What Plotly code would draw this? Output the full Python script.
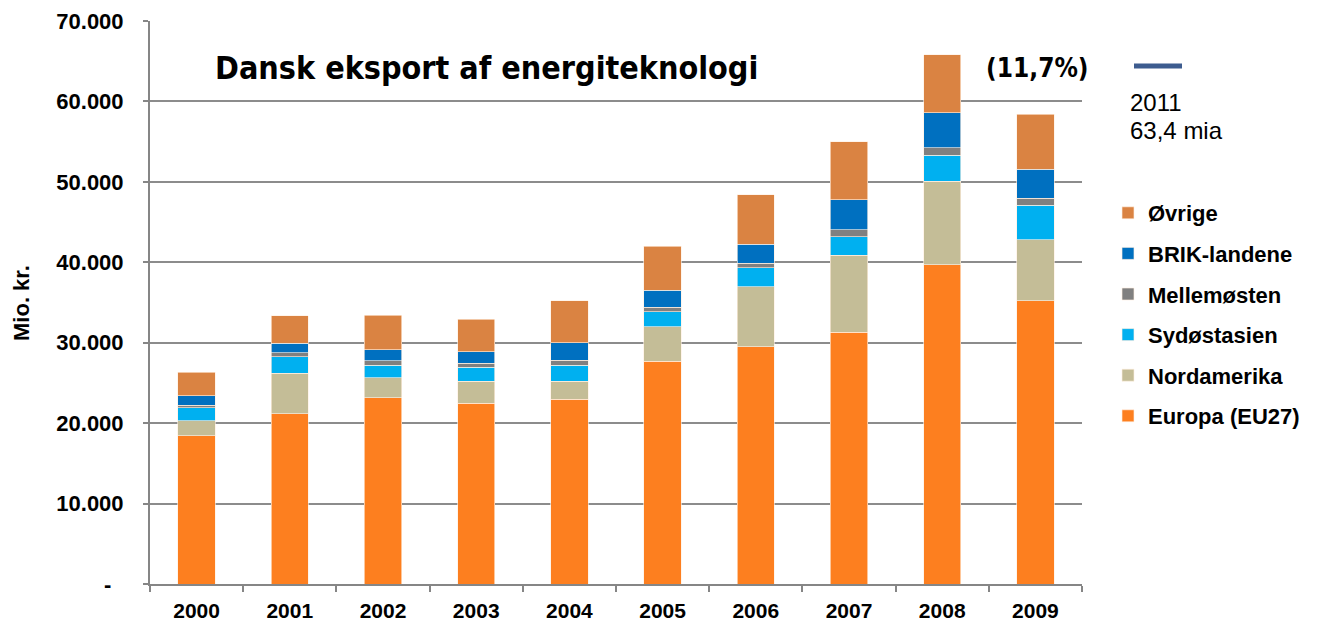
import plotly.graph_objects as go

years = ["2000", "2001", "2002", "2003", "2004", "2005", "2006", "2007", "2008", "2009"]

europa = [18440, 21175, 23170, 22500, 23000, 27690, 29500, 31330, 39700, 35220]
nordamerika = [1830, 5060, 2445, 2690, 2240, 4265, 7460, 9575, 10365, 7585]
sydoestasien = [1650, 1990, 1575, 1740, 1950, 1900, 2370, 2240, 3235, 4275]
mellemoesten = [330, 500, 540, 540, 620, 545, 540, 910, 945, 910]
brik = [1150, 1200, 1365, 1410, 2200, 2150, 2400, 3730, 4350, 3605]
oevrige = [2900, 3435, 4350, 4020, 5180, 5470, 6130, 7210, 7210, 6840]

series_names = ["Europa (EU27)", "Nordamerika", "Sydøstasien", "Mellemøsten", "BRIK-landene", "Øvrige"]
series_values = [europa, nordamerika, sydoestasien, mellemoesten, brik, oevrige]
series_colors = ["#FD7F1F", "#C4BD97", "#00B0F0", "#808080", "#0070C0", "#DA8342"]

y_tickvals = [0, 10000, 20000, 30000, 40000, 50000, 60000, 70000]
y_ticktext = ["-\u00a0\u00a0", "10.000", "20.000", "30.000", "40.000", "50.000", "60.000", "70.000"]

title_text = "Dansk eksport af energiteknologi"
growth_text = "(11,7%)"
note_year = "2011"
note_value = "63,4 mia"
y_title = "Mio. kr."

FONT = "Liberation Sans, Arial, sans-serif"
TFONT = "Liberation Sans Narrow, Arial Narrow, DejaVu Sans Condensed, Liberation Sans, sans-serif"

# page body has an 8px margin; work in reference-screen pixels and shift
OFF = 8
W, H = 1326 - 2 * OFF, 629 - 2 * OFF
PL, PR, PT, PB = 150, 1082, 21, 584  # plot area in screen pixels
L, R, T, B = PL - OFF, W - (PR - OFF), PT - OFF, H - (PB - OFF)
pw, ph = PR - PL, PB - PT


def px(x):
    return (x - PL) / pw


def py(y):
    return (PB - y) / ph


def cx(x):
    return (x - OFF) / W


def cy(y):
    return 1 - (y - OFF) / H


fig = go.Figure()
for i, (name, vals, col) in enumerate(zip(series_names, series_values, series_colors)):
    fig.add_trace(go.Bar(
        x=years, y=vals, name=name, legendgroup=name,
        legendrank=len(series_names) - i,
        marker=dict(color=col, line=dict(color="rgba(255,240,225,0.8)", width=0.8)),
    ))

fig.update_layout(
    width=W, height=H,
    margin=dict(l=L, r=R, t=T, b=B, autoexpand=False),
    barmode="stack",
    bargap=0.6,
    plot_bgcolor="white",
    paper_bgcolor="white",
    font=dict(family=FONT, color="black"),
    showlegend=True,
    legend=dict(
        xref="container", yref="container",
        x=cx(1108), xanchor="left", y=cy(192), yanchor="top",
        traceorder="grouped", tracegroupgap=9,
        font=dict(family=FONT, size=22, color="black", weight="bold"),
        itemwidth=30, bgcolor="rgba(0,0,0,0)",
    ),
    xaxis=dict(
        type="category", automargin=False,
        showline=True, linecolor="#868686", linewidth=2,
        ticks="outside", tickson="boundaries", ticklen=6, tickcolor="#868686", tickwidth=2,
        tickfont=dict(family=FONT, size=21, color="black", weight="bold"),
        showgrid=False,
        ticklabelstandoff=7,
    ),
    yaxis=dict(
        range=[0, 70000], automargin=False,
        tickvals=y_tickvals, ticktext=y_ticktext,
        showline=True, linecolor="#868686", linewidth=2,
        ticks="outside", ticklen=5, tickcolor="#868686", tickwidth=2,
        showgrid=True, gridcolor="#8c8c8c", gridwidth=1.5,
        tickfont=dict(family=FONT, size=22, color="black", weight="bold"),
        ticklabelstandoff=15,
        zeroline=False,
    ),
)

fig.add_annotation(
    text=y_title, xref="paper", yref="paper", x=px(21), y=py(303),
    textangle=-90, showarrow=False, xanchor="center", yanchor="middle",
    font=dict(family=FONT, size=22, color="black", weight="bold"),
)
fig.add_annotation(
    text=title_text, xref="paper", yref="paper", x=px(213), y=py(68),
    showarrow=False, xanchor="left", yanchor="middle",
    font=dict(family=TFONT, size=32, color="black", weight="bold"),
)
fig.add_annotation(
    text=growth_text, xref="paper", yref="paper", x=px(984), y=py(68),
    showarrow=False, xanchor="left", yanchor="middle",
    font=dict(family=TFONT, size=26, color="black", weight="bold"),
)
fig.add_annotation(
    text=note_year, xref="paper", yref="paper", x=px(1128), y=py(103),
    showarrow=False, xanchor="left", yanchor="middle", align="left",
    font=dict(family=FONT, size=24, color="black"),
)
fig.add_annotation(
    text=note_value, xref="paper", yref="paper", x=px(1128), y=py(130),
    showarrow=False, xanchor="left", yanchor="middle", align="left",
    font=dict(family=FONT, size=24, color="black"),
)
fig.add_shape(
    type="line", xref="paper", yref="paper",
    x0=px(1134), x1=px(1182), y0=py(66), y1=py(66),
    line=dict(color="#3D5C8F", width=5),
)

fig.write_html("out.html")
